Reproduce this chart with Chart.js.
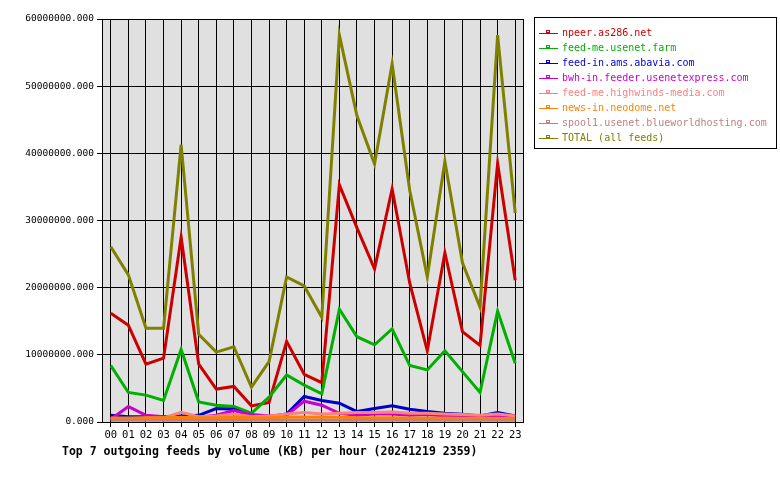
<!DOCTYPE html>
<html>
<head>
<meta charset="utf-8">
<script src="https://cdn.jsdelivr.net/npm/chart.js@4/dist/chart.umd.min.js"></script>
<style>
  body { margin: 0; background: #fff; }
  #wrap { width: 780px; height: 480px; }
</style>
</head>
<body>
<div id="wrap"><canvas id="feeds" width="780" height="480"></canvas></div>
<script>
// hourly outgoing volume (KB)
var hours = ['00','01','02','03','04','05','06','07','08','09','10','11',
             '12','13','14','15','16','17','18','19','20','21','22','23'];

var npeer = [16200000,14400000,8600000,9500000,27500000,8600000,4900000,5300000,2400000,2900000,12000000,7100000,
             5850000,35300000,28900000,22800000,34700000,20700000,10600000,25200000,13450000,11400000,38500000,21100000];
var feedMe = [8400000,4400000,4000000,3200000,10800000,3000000,2500000,2300000,1300000,3700000,7000000,5500000,
              4200000,16800000,12700000,11500000,13850000,8400000,7750000,10600000,7500000,4400000,16500000,8750000];
var abavia = [1000000,800000,800000,800000,900000,1000000,2000000,1900000,850000,800000,1200000,3800000,
              3200000,2800000,1550000,2000000,2400000,1900000,1550000,1300000,1150000,900000,1400000,900000];
var bwh = [400000,2300000,1000000,800000,600000,700000,1000000,1700000,1100000,900000,1000000,3100000,
           2500000,1300000,1000000,1200000,1200000,1000000,1100000,900000,800000,700000,900000,700000];
var highwinds = [500000,500000,600000,600000,1450000,800000,900000,1200000,800000,900000,1200000,1400000,
                 1200000,1300000,1400000,1400000,1500000,1300000,1300000,1200000,1100000,1000000,1200000,900000];
var neodome = [600000,600000,650000,650000,700000,650000,650000,700000,650000,650000,700000,750000,
               700000,700000,650000,650000,650000,600000,600000,600000,550000,550000,550000,500000];
var spool1 = [250000,250000,250000,250000,250000,250000,250000,250000,250000,250000,250000,250000,
              250000,250000,250000,250000,250000,250000,250000,250000,250000,250000,250000,250000];
var total = [26100000,21900000,13950000,13950000,41300000,13050000,10400000,11200000,5200000,9000000,21600000,20250000,
             15600000,57600000,45600000,38400000,53300000,34500000,21600000,38800000,23700000,17100000,57600000,31100000];

var feedNames = ['npeer.as286.net','feed-me.usenet.farm','feed-in.ams.abavia.com','bwh-in.feeder.usenetexpress.com',
                 'feed-me.highwinds-media.com','news-in.neodome.net','spool1.usenet.blueworldhosting.com','TOTAL (all feeds)'];
var feedValues = [npeer, feedMe, abavia, bwh, highwinds, neodome, spool1, total];
var feedColors = ['#cc0000','#00b000','#0000cc','#cc00cc','#ff8080','#ff8000','#c08080','#808000'];

var yTicks = [0, 10000000, 20000000, 30000000, 40000000, 50000000, 60000000];
var titleText = 'Top 7 outgoing feeds by volume (KB) per hour (20241219 2359)';

var mono = 'DejaVu Sans Mono';

var datasets = [];
for (var i = 0; i < feedNames.length; i++) {
    datasets.push({
        label: feedNames[i],
        data: feedValues[i],
        borderColor: feedColors[i],
        backgroundColor: feedColors[i],
        borderWidth: 3,
        pointRadius: 0,
        tension: 0,
        fill: false,
        order: feedNames.length - i
    });
}

var plotBox = {
    id: 'plotBox',
    beforeDraw: function(chart) {
        var a = chart.chartArea, c = chart.ctx;
        c.save();
        c.fillStyle = '#e0e0e0';
        c.fillRect(a.left, a.top, a.right - a.left, a.bottom - a.top);
        c.restore();
    },
    afterDatasetsDraw: function(chart) {
        var a = chart.chartArea, c = chart.ctx;
        c.save();
        c.strokeStyle = '#000';
        c.lineWidth = 1;
        c.strokeRect(a.left + 0.5, a.top + 0.5, a.right - a.left - 1, a.bottom - a.top);
        c.restore();
    },
    afterDraw: function(chart) {
        var c = chart.ctx;
        c.save();
        // legend box
        c.strokeStyle = '#000';
        c.lineWidth = 1;
        c.strokeRect(534.5, 17.5, 242, 131);
        c.font = '10px "' + mono + '"';
        c.textBaseline = 'middle';
        for (var i = 0; i < feedNames.length; i++) {
            var y = 33 + i * 15;
            c.strokeStyle = feedColors[i];
            c.beginPath();
            c.moveTo(539, y + 0.5);
            c.lineTo(558, y + 0.5);
            c.stroke();
            c.strokeRect(546.5, y - 2.5, 3, 2);
            c.fillStyle = feedColors[i];
            c.fillText(feedNames[i], 562, y);
        }
        // caption
        c.fillStyle = '#000';
        c.font = 'bold 11.5px "' + mono + '"';
        c.fillText(titleText, 62, 452);
        c.restore();
    }
};

new Chart('feeds', {
    type: 'line',
    data: { labels: hours, datasets: datasets },
    plugins: [plotBox],
    options: {
        responsive: false,
        animation: false,
        layout: { padding: { left: 0, top: 19, right: 256, bottom: 0 } },
        plugins: {
            legend: { display: false },
            title: { display: false },
            tooltip: { enabled: false }
        },
        scales: {
            x: {
                offset: true,
                afterFit: function(s) { s.height = 58; },
                grid: { offset: false, color: '#000', lineWidth: 1, tickLength: 5, drawTicks: true },
                border: { display: false },
                ticks: { color: '#000', padding: 2, maxRotation: 0, autoSkip: false, font: { family: mono, size: 10.5 } }
            },
            y: {
                min: 0,
                max: 60000000,
                afterFit: function(s) { s.width = 102; },
                afterBuildTicks: function(s) { s.ticks = yTicks.map(function(v) { return { value: v }; }); },
                grid: { color: '#000', lineWidth: 1, tickLength: 5 },
                border: { display: false },
                ticks: {
                    color: '#000',
                    padding: 3,
                    font: { family: mono, size: 9.5 },
                    callback: function(v) { return Number(v).toFixed(3); }
                }
            }
        }
    }
});
</script>
</body>
</html>
